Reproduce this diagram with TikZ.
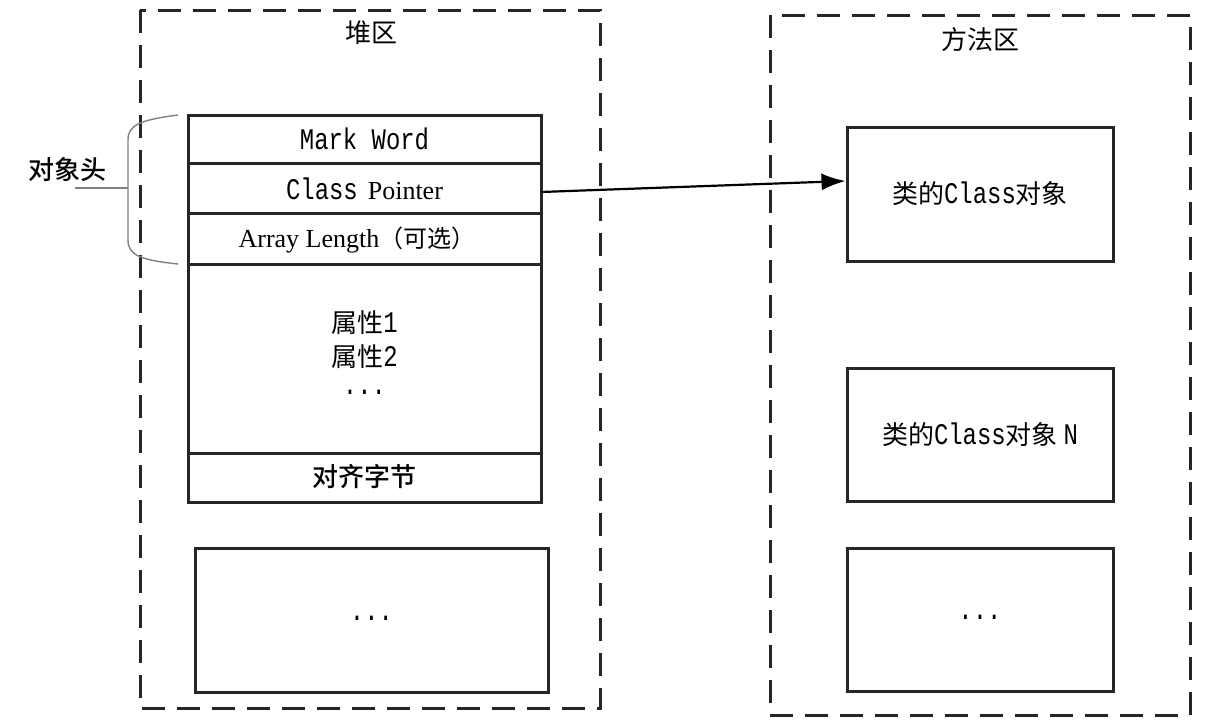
\documentclass[tikz,border=0pt]{standalone}
\usepackage{fontspec}
\setmainfont{Liberation Serif}
\setmonofont{Liberation Mono}
\newfontfamily\cjk{Noto Sans CJK SC}
\newfontfamily\cjkb{Noto Sans CJK SC Medium}
\usetikzlibrary{arrows.meta}
\newcommand{\mono}[1]{\scalebox{0.92}[1.15]{\ttfamily #1}}
\begin{document}
\begin{tikzpicture}[x=1pt,y=-1pt,
  region/.style={draw=black!85,line width=3pt,dash pattern=on 23pt off 12pt},
  cell/.style={draw=black!85,line width=3pt},
  big/.style={font=\fontsize{26}{30}\selectfont},
]
\useasboundingbox (0,0) rectangle (1219,728);
% regions
\draw[region] (140,10) rectangle (600,708);
\draw[region] (770,15) rectangle (1190,715);
\node[big] (heap) at (371,33) {\cjk 堆区};
\node[big] (meth) at (980,40) {\cjk 方法区};
% object layout
\draw[cell] (188,115) rectangle (541,502);
\draw[cell] (188,163) -- (541,163);
\draw[cell] (188,213) -- (541,213);
\draw[cell] (188,264) -- (541,264);
\draw[cell] (188,453) -- (541,453);
\node[big] (mw) at (364.5,139) {\mono{Mark Word}};
\node[big] (cp) at (364.5,189) {\mono{Class}\hspace{10pt}\fontsize{26}{30}\selectfont Pointer};
\coordinate (cpr) at (541,192);
\node (al) at (357,240) {\fontsize{26}{30}\selectfont Array Length\cjk\fontsize{24}{30}\selectfont（可选）};
\node[big] (a1) at (364.5,323) {\cjk 属性\mono{1}};
\node[big] (a2) at (364.5,357) {\cjk 属性\mono{2}};
\node[big] (a3) at (364.5,392) {\mono{...}};
\node[big] (pad) at (364.5,477) {\cjkb 对齐字节};
\node[cell,big,minimum width=353pt,minimum height=144pt] (more) at (371.5,620) {\raisebox{4pt}{\mono{...}}};
% class objects
\node[cell,big,minimum width=266pt,minimum height=134pt] (c1) at (980,194) {\cjk 类的\mono{Class}对象};
\node[cell,big,minimum width=266pt,minimum height=133pt] (c2) at (980,434.5) {\cjk 类的\mono{Class}对象 \mono{N}};
\node[cell,big,minimum width=266pt,minimum height=143pt] (c3) at (980,619.5) {\raisebox{4pt}{\mono{...}}};
\draw[line width=2.2pt,-{Latex[length=24pt,width=17pt]}] (cpr) -- (c1.west |- 0,181);
% brace
\draw[gray,line width=1.4pt] (178,115) .. controls (140,120) and (128,125) .. (128,140) -- (128,240) .. controls (128,255) and (140,260) .. (178,264);
\draw[gray,line width=1.4pt] (128,188) -- (75,188);
\node[big] (hdr) at (67,170) {\cjkb 对象头};
\end{tikzpicture}
\end{document}
